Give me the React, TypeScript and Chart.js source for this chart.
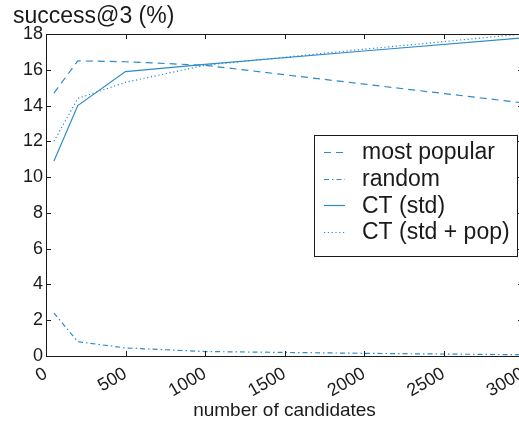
import React, { useEffect, useRef } from "react";
import { Chart, registerables } from "chart.js";

Chart.register(...registerables);

const candidates = [50, 200, 500, 1000, 2000, 3000];
const mostPopular = [14.7, 16.5, 16.45, 16.25, 15.2, 14.15];
const randomPick = [2.4, 0.8, 0.45, 0.25, 0.15, 0.07];
const ctStd = [10.9, 14.0, 15.9, 16.3, 17.05, 17.78];
const ctStdPop = [12.0, 14.4, 15.3, 16.25, 17.15, 18.0];
const seriesLabels = ["most popular", "random", "CT (std)", "CT (std + pop)"];

const FONT = "'Liberation Sans', Arial, Helvetica, sans-serif";
const BLUE = "#2e8bc9";
const INK = "#1a1a1a";

// Frame with inward-pointing ticks on all four sides, plus the y-axis caption.
const framePlugin = {
  id: "frame",
  afterDatasetsDraw(chart: any) {
    const { ctx, chartArea: a, scales } = chart;
    const x = scales.x;
    const y = scales.y;
    ctx.save();
    ctx.strokeStyle = INK;
    ctx.lineWidth = 1;
    ctx.strokeRect(Math.round(a.left) + 0.5, Math.round(a.top) + 0.5, Math.round(a.right - a.left), Math.round(a.bottom - a.top));
    const len = 5;
    ctx.beginPath();
    x.ticks.forEach((t: any) => {
      const px = Math.round(x.getPixelForValue(t.value)) + 0.5;
      ctx.moveTo(px, a.bottom);
      ctx.lineTo(px, a.bottom - len);
      ctx.moveTo(px, a.top);
      ctx.lineTo(px, a.top + len);
    });
    y.ticks.forEach((t: any) => {
      const py = Math.round(y.getPixelForValue(t.value)) + 0.5;
      ctx.moveTo(a.left, py);
      ctx.lineTo(a.left + len, py);
      ctx.moveTo(a.right, py);
      ctx.lineTo(a.right - len, py);
    });
    ctx.stroke();

    ctx.fillStyle = INK;
    ctx.font = `23px ${FONT}`;
    ctx.textAlign = "left";
    ctx.textBaseline = "alphabetic";
    ctx.fillText("success@3 (%)", 13, 23);
    ctx.restore();
  },
};

// Boxed legend inside the plot, using each dataset's own stroke style.
const legendPlugin = {
  id: "boxLegend",
  afterDraw(chart: any) {
    const { ctx, chartArea: a } = chart;
    const w = 203;
    const h = 121;
    const left = Math.round(a.right - 6 - w);
    const top = Math.round(a.top + 101);
    ctx.save();
    ctx.fillStyle = "#ffffff";
    ctx.fillRect(left, top, w, h);
    ctx.strokeStyle = INK;
    ctx.lineWidth = 1;
    ctx.strokeRect(left + 0.5, top + 0.5, w, h);
    ctx.font = `23px ${FONT}`;
    ctx.textBaseline = "middle";
    ctx.textAlign = "left";
    chart.data.datasets.forEach((ds: any, i: number) => {
      const cy = top + 17 + i * 26.6;
      ctx.beginPath();
      ctx.strokeStyle = ds.borderColor;
      ctx.lineWidth = ds.borderWidth;
      ctx.setLineDash(ds.borderDash || []);
      ctx.moveTo(left + 10, Math.round(cy) + 0.5);
      ctx.lineTo(left + 31, Math.round(cy) + 0.5);
      ctx.stroke();
      ctx.setLineDash([]);
      ctx.fillStyle = INK;
      ctx.fillText(ds.label, left + 48, cy + 1);
    });
    ctx.restore();
  },
};

export default function App() {
  const ref = useRef<HTMLCanvasElement | null>(null);

  useEffect(() => {
    if (!ref.current) return;
    const line = (label: string, values: number[], dash: number[]) => ({
      label,
      data: candidates.map((c, i) => ({ x: c, y: values[i] })),
      borderColor: BLUE,
      borderWidth: 1.2,
      borderDash: dash,
      pointRadius: 0,
      fill: false,
      tension: 0,
    });
    const chart = new Chart(ref.current, {
      type: "line",
      data: {
        datasets: [
          line(seriesLabels[0], mostPopular, [7, 5]),
          line(seriesLabels[1], randomPick, [5, 3, 1.5, 3]),
          line(seriesLabels[2], ctStd, []),
          line(seriesLabels[3], ctStdPop, [1.2, 2.6]),
        ],
      },
      options: {
        responsive: false,
        animation: false,
        events: [],
        layout: { padding: { top: 34, left: 0, right: 0, bottom: 0 } },
        plugins: {
          legend: { display: false },
          tooltip: { enabled: false },
        },
        scales: {
          x: {
            type: "linear",
            min: 0,
            max: 3000,
            afterFit: (s: any) => {
              s.height = 66;
              s.paddingLeft = 0;
              s.paddingRight = 0;
            },
            grid: { display: false, drawTicks: false },
            border: { display: false },
            ticks: {
              stepSize: 500,
              autoSkip: false,
              minRotation: 30,
              maxRotation: 30,
              padding: 7,
              color: INK,
              font: { family: FONT, size: 18 },
              callback: (v: any) => String(v),
            },
            title: {
              display: true,
              text: "number of candidates",
              color: INK,
              font: { family: FONT, size: 19 },
              padding: { top: 0, bottom: 0 },
            },
          },
          y: {
            min: 0,
            max: 18,
            afterFit: (s: any) => {
              s.width = 46;
              s.paddingTop = 0;
              s.paddingBottom = 0;
            },
            grid: { display: false, drawTicks: false },
            border: { display: false },
            ticks: {
              stepSize: 2,
              padding: 3,
              color: INK,
              font: { family: FONT, size: 18 },
            },
          },
        },
      },
      plugins: [framePlugin, legendPlugin],
    });
    return () => chart.destroy();
  }, []);

  return (
    <div
      style={{
        position: "fixed",
        left: 0,
        top: 0,
        width: 519,
        height: 422,
        overflow: "hidden",
        background: "#ffffff",
      }}
    >
      <canvas ref={ref} width={523} height={422} style={{ display: "block" }} />
    </div>
  );
}
